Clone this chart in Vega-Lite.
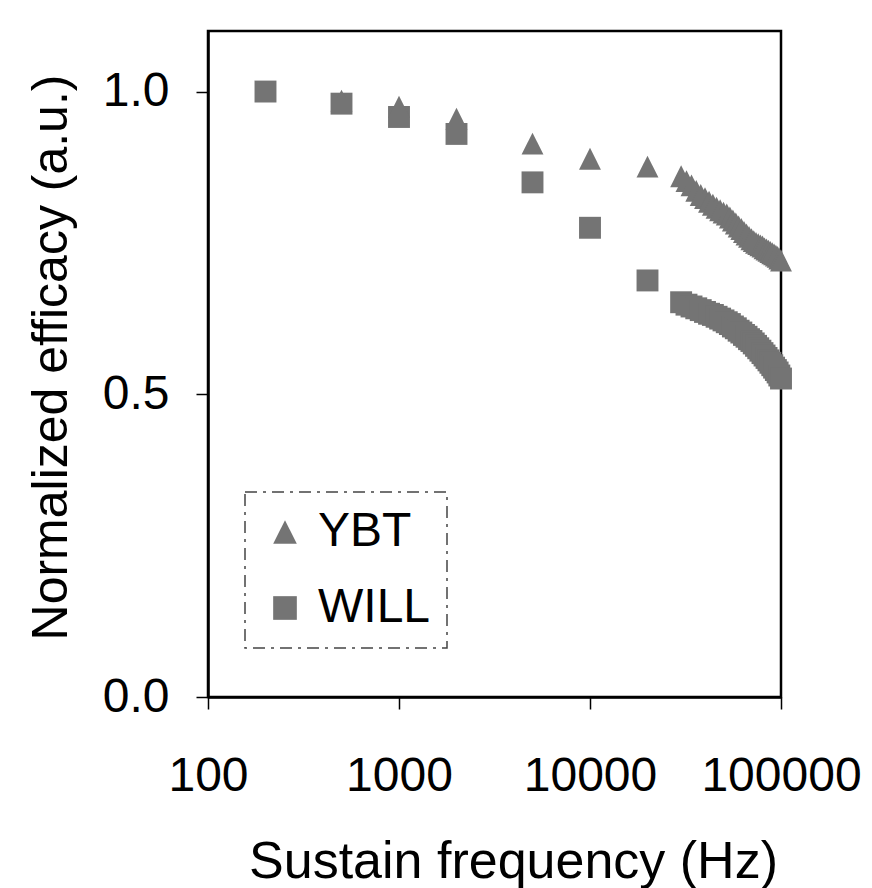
{
  "$schema": "https://vega.github.io/schema/vega-lite/v6.json",
  "autosize": {"type": "none"},
  "width": 573,
  "height": 666,
  "padding": {"left": 208, "top": 31, "right": 91, "bottom": 191},
  "background": "white",
  "config": {
    "font": "Liberation Sans",
    "view": {"stroke": "black", "strokeWidth": 2.5},
    "axis": {"domainColor": "black", "domainWidth": 2.5, "tickColor": "black", "tickWidth": 1.5, "tickSize": 12, "grid": false, "labelColor": "black", "titleColor": "black", "labelFont": "Liberation Sans", "titleFont": "Liberation Sans", "labelFontSize": 48, "titleFontSize": 50, "titleFontWeight": "normal"},
    "legend": {"strokeDash": [12, 6, 3, 6], "strokeWidth": 1.5}
  },
  "data": {
    "values": [
      {"f": 200, "v": 1.0, "s": "WILL"},
      {"f": 500, "v": 0.98, "s": "WILL"},
      {"f": 1000, "v": 0.958, "s": "WILL"},
      {"f": 2000, "v": 0.93, "s": "WILL"},
      {"f": 5000, "v": 0.85, "s": "WILL"},
      {"f": 10000, "v": 0.775, "s": "WILL"},
      {"f": 20000, "v": 0.688, "s": "WILL"},
      {"f": 30000, "v": 0.652, "s": "WILL"},
      {"f": 32000, "v": 0.648, "s": "WILL"},
      {"f": 34000, "v": 0.645, "s": "WILL"},
      {"f": 36000, "v": 0.642, "s": "WILL"},
      {"f": 38000, "v": 0.639, "s": "WILL"},
      {"f": 40000, "v": 0.636, "s": "WILL"},
      {"f": 42000, "v": 0.633, "s": "WILL"},
      {"f": 44000, "v": 0.631, "s": "WILL"},
      {"f": 46000, "v": 0.628, "s": "WILL"},
      {"f": 48000, "v": 0.625, "s": "WILL"},
      {"f": 50000, "v": 0.622, "s": "WILL"},
      {"f": 52000, "v": 0.619, "s": "WILL"},
      {"f": 54000, "v": 0.616, "s": "WILL"},
      {"f": 56000, "v": 0.612, "s": "WILL"},
      {"f": 58000, "v": 0.609, "s": "WILL"},
      {"f": 60000, "v": 0.605, "s": "WILL"},
      {"f": 62000, "v": 0.602, "s": "WILL"},
      {"f": 64000, "v": 0.598, "s": "WILL"},
      {"f": 66000, "v": 0.595, "s": "WILL"},
      {"f": 68000, "v": 0.591, "s": "WILL"},
      {"f": 70000, "v": 0.588, "s": "WILL"},
      {"f": 72000, "v": 0.584, "s": "WILL"},
      {"f": 74000, "v": 0.58, "s": "WILL"},
      {"f": 76000, "v": 0.576, "s": "WILL"},
      {"f": 78000, "v": 0.572, "s": "WILL"},
      {"f": 80000, "v": 0.568, "s": "WILL"},
      {"f": 82000, "v": 0.564, "s": "WILL"},
      {"f": 84000, "v": 0.56, "s": "WILL"},
      {"f": 86000, "v": 0.556, "s": "WILL"},
      {"f": 88000, "v": 0.552, "s": "WILL"},
      {"f": 90000, "v": 0.548, "s": "WILL"},
      {"f": 92000, "v": 0.544, "s": "WILL"},
      {"f": 94000, "v": 0.54, "s": "WILL"},
      {"f": 96000, "v": 0.536, "s": "WILL"},
      {"f": 98000, "v": 0.531, "s": "WILL"},
      {"f": 100000, "v": 0.526, "s": "WILL"},
      {"f": 500, "v": 0.985, "s": "YBT"},
      {"f": 1000, "v": 0.975, "s": "YBT"},
      {"f": 2000, "v": 0.955, "s": "YBT"},
      {"f": 5000, "v": 0.914, "s": "YBT"},
      {"f": 10000, "v": 0.889, "s": "YBT"},
      {"f": 20000, "v": 0.876, "s": "YBT"},
      {"f": 30000, "v": 0.86, "s": "YBT"},
      {"f": 32000, "v": 0.852, "s": "YBT"},
      {"f": 34000, "v": 0.845, "s": "YBT"},
      {"f": 36000, "v": 0.836, "s": "YBT"},
      {"f": 38000, "v": 0.829, "s": "YBT"},
      {"f": 40000, "v": 0.824, "s": "YBT"},
      {"f": 42000, "v": 0.818, "s": "YBT"},
      {"f": 44000, "v": 0.813, "s": "YBT"},
      {"f": 46000, "v": 0.808, "s": "YBT"},
      {"f": 48000, "v": 0.804, "s": "YBT"},
      {"f": 50000, "v": 0.8, "s": "YBT"},
      {"f": 52000, "v": 0.797, "s": "YBT"},
      {"f": 54000, "v": 0.792, "s": "YBT"},
      {"f": 56000, "v": 0.787, "s": "YBT"},
      {"f": 58000, "v": 0.782, "s": "YBT"},
      {"f": 60000, "v": 0.777, "s": "YBT"},
      {"f": 62000, "v": 0.773, "s": "YBT"},
      {"f": 64000, "v": 0.768, "s": "YBT"},
      {"f": 66000, "v": 0.764, "s": "YBT"},
      {"f": 68000, "v": 0.76, "s": "YBT"},
      {"f": 70000, "v": 0.756, "s": "YBT"},
      {"f": 72000, "v": 0.753, "s": "YBT"},
      {"f": 74000, "v": 0.75, "s": "YBT"},
      {"f": 76000, "v": 0.748, "s": "YBT"},
      {"f": 78000, "v": 0.746, "s": "YBT"},
      {"f": 80000, "v": 0.744, "s": "YBT"},
      {"f": 82000, "v": 0.741, "s": "YBT"},
      {"f": 84000, "v": 0.739, "s": "YBT"},
      {"f": 86000, "v": 0.737, "s": "YBT"},
      {"f": 88000, "v": 0.735, "s": "YBT"},
      {"f": 90000, "v": 0.733, "s": "YBT"},
      {"f": 92000, "v": 0.731, "s": "YBT"},
      {"f": 94000, "v": 0.729, "s": "YBT"},
      {"f": 96000, "v": 0.727, "s": "YBT"},
      {"f": 98000, "v": 0.724, "s": "YBT"},
      {"f": 100000, "v": 0.721, "s": "YBT"}
    ]
  },
  "mark": {"type": "point", "filled": true, "color": "#747474", "opacity": 1, "size": 480, "clip": false},
  "encoding": {
    "x": {
      "field": "f", "type": "quantitative",
      "scale": {"type": "log", "domain": [100, 100000], "nice": false},
      "axis": {"values": [100, 1000, 10000, 100000], "format": "d", "labelPadding": 43, "labelFlush": false, "labelOverlap": false, "title": "Sustain frequency (Hz)", "titleFontSize": 52, "titleX": 305, "titleY": 180, "titleBaseline": "alphabetic", "titleAlign": "center"}
    },
    "y": {
      "field": "v", "type": "quantitative",
      "scale": {"domain": [0, 1.1], "nice": false, "zero": true},
      "axis": {"values": [0, 0.5, 1.0], "format": ".1f", "labelPadding": 27, "labelFlush": false, "title": "Normalized efficacy (a.u.)", "titleX": -142, "titleY": 326, "titleBaseline": "alphabetic", "titleAlign": "center", "titleAngle": -90}
    },
    "shape": {
      "field": "s", "type": "nominal",
      "scale": {"domain": ["YBT", "WILL"], "range": ["M-1,1L0,-1L1,1Z", "square"]},
      "legend": {"orient": "none", "legendX": 37, "legendY": 461, "title": null, "strokeColor": "#444444", "fillColor": "white", "padding": 16, "labelFontSize": 48, "labelFont": "Liberation Sans", "labelColor": "black", "labelOffset": 9, "symbolSize": 560, "symbolFillColor": "#747474", "symbolStrokeWidth": 0, "rowPadding": 28}
    }
  }
}
